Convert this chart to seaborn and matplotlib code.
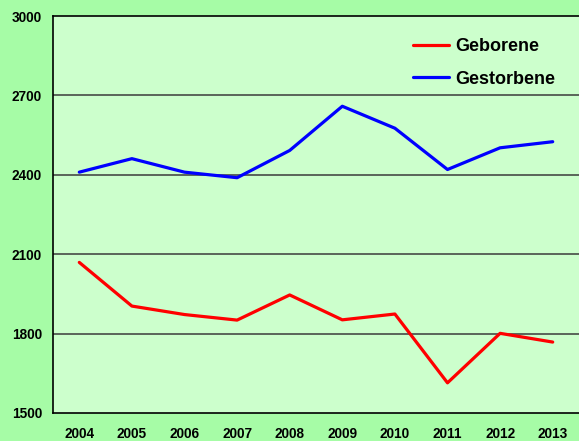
import numpy as np
import pandas as pd
import seaborn as sns
import matplotlib.pyplot as plt
from matplotlib.ticker import FixedLocator

jahre = ["2004", "2005", "2006", "2007", "2008", "2009", "2010", "2011", "2012", "2013"]
geborene = [2069, 1904, 1872, 1851, 1946, 1852, 1874, 1614, 1801, 1768]
gestorbene = [2410, 2461, 2410, 2389, 2492, 2659, 2576, 2420, 2502, 2525]
y_ticks = [1500, 1800, 2100, 2400, 2700, 3000]

sns.set_style("white")
plt.rcParams['font.family'] = ['Liberation Sans', 'DejaVu Sans']
plt.rcParams['text.color'] = 'black'
plt.rcParams['xtick.color'] = 'black'
plt.rcParams['ytick.color'] = 'black'

df = pd.DataFrame({
    "pos": list(range(len(jahre))) * 2,
    "wert": geborene + gestorbene,
    "serie": ["Geborene"] * len(jahre) + ["Gestorbene"] * len(jahre),
})

fig = plt.figure(figsize=(5.79, 4.41), dpi=100, facecolor="#a6fca6")
ax = fig.add_axes([53 / 579, 1 - 413 / 441, 1 - 53 / 579, 397 / 441])
ax.set_facecolor("#ccffcc")

for y in y_ticks[1:-1]:
    ax.axhline(y, color="#3a3a3a", lw=1.1, zorder=1)

sns.lineplot(data=df, x="pos", y="wert", hue="serie",
             palette={"Geborene": "#ff0000", "Gestorbene": "#0000ff"},
             lw=2.3, ax=ax, zorder=3)

ax.set_xlim(-0.5, len(jahre) - 0.5)
ax.set_ylim(1500, 3000)
ax.set_yticks(y_ticks)
ax.set_yticklabels([str(v) for v in y_ticks], fontsize=9.8, fontweight="bold")
ax.set_xticks(range(len(jahre)))
ax.set_xticklabels(jahre, fontsize=9.8, fontweight="bold")
ax.xaxis.set_minor_locator(FixedLocator(np.arange(-0.5, len(jahre), 1.0)))
ax.tick_params(axis="x", which="major", length=0, pad=10)
ax.tick_params(axis="x", which="minor", length=4, width=1, color="black", direction="out")
ax.tick_params(axis="y", length=5, width=1, color="black", direction="out", pad=3)
ax.set_xlabel("")
ax.set_ylabel("")

for side in ["left", "bottom", "top"]:
    ax.spines[side].set_visible(True)
    ax.spines[side].set_color("black")
    ax.spines[side].set_linewidth(1.2)
ax.spines["right"].set_visible(False)

leg = ax.legend(loc="upper right", bbox_to_anchor=(0.985, 0.985), frameon=False,
                prop={"size": 13, "weight": "bold"}, handlelength=2.0,
                labelspacing=0.85, handletextpad=0.3)
for line in leg.get_lines():
    line.set_linewidth(2.3)

fig.savefig("out.png", dpi=100, facecolor=fig.get_facecolor())
